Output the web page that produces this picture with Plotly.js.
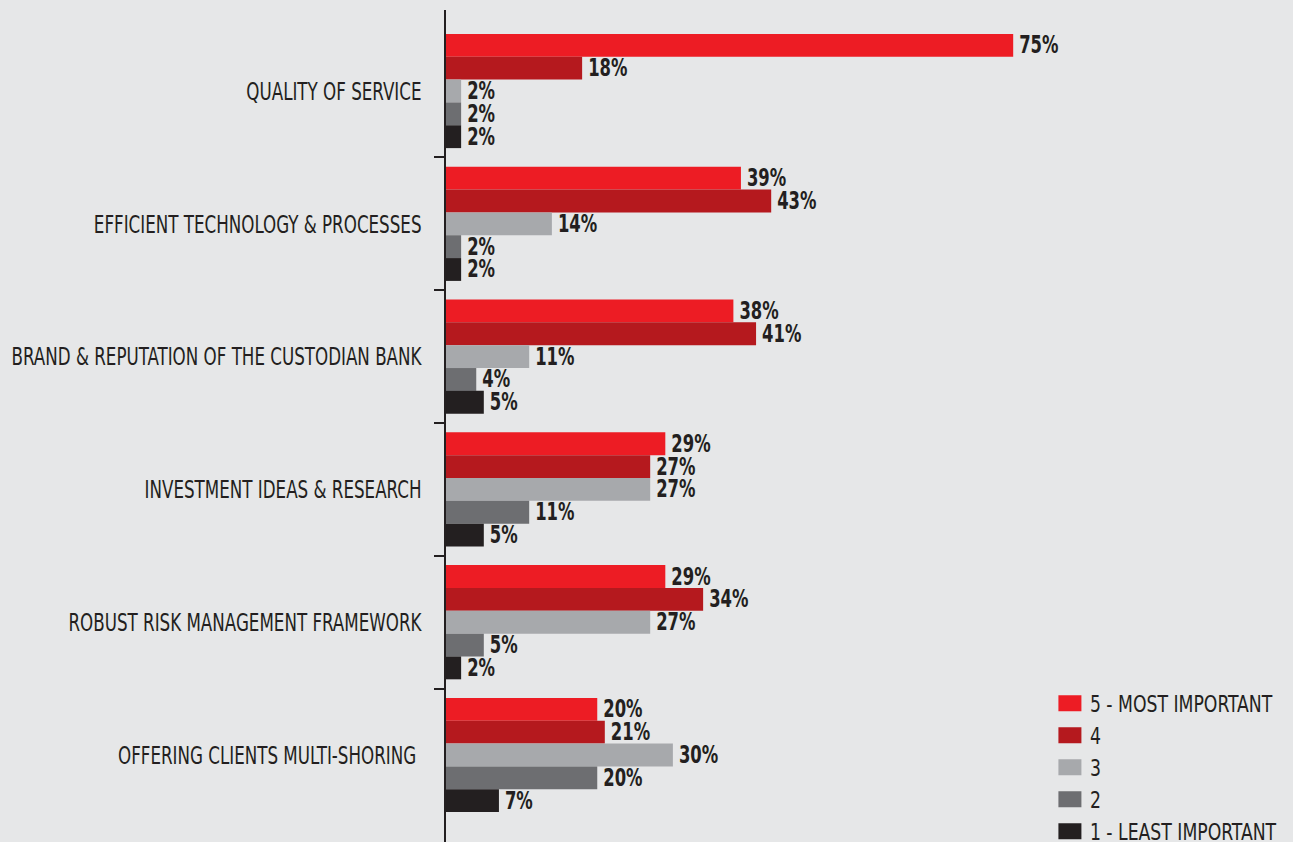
<!DOCTYPE html>
<html>
<head>
<meta charset="utf-8">
<script src="https://cdn.plot.ly/plotly-3.0.1.min.js"></script>
<style>html,body{margin:0;padding:0;background:#e6e7e8;}#chart{width:1293px;height:842px;}</style>
</head>
<body>
<div id="chart"></div>
<script>
const categories = [
  "QUALITY OF SERVICE",
  "EFFICIENT TECHNOLOGY & PROCESSES",
  "BRAND & REPUTATION OF THE CUSTODIAN BANK",
  "INVESTMENT IDEAS & RESEARCH",
  "ROBUST RISK MANAGEMENT FRAMEWORK",
  "OFFERING CLIENTS MULTI-SHORING "
];
const seriesNames = ["5 - MOST IMPORTANT", "4", "3", "2", "1 - LEAST IMPORTANT"];
const s5 = [75, 39, 38, 29, 29, 20];
const s4 = [18, 43, 41, 27, 34, 21];
const s3 = [2, 14, 11, 27, 27, 30];
const s2 = [2, 2, 4, 11, 5, 20];
const s1 = [2, 2, 5, 5, 2, 7];
const colors = ["#ed1c24", "#b5191e", "#a7a9ac", "#6d6e71", "#231f20"];

const FONT = "'DejaVu Sans Condensed', 'DejaVu Sans', sans-serif";
const positions = categories.map((c, i) => i);
const boundaries = categories.slice(1).map((c, i) => i + 0.5);

const allSeries = [s5, s4, s3, s2, s1];
const traces = allSeries.map((vals, k) => ({
  type: "bar",
  orientation: "h",
  name: seriesNames[k],
  x: vals,
  y: positions,
  marker: {color: colors[k]},
  text: vals.map(v => v + "%"),
  textposition: "outside",
  constraintext: "none",
  cliponaxis: false,
  textfont: {family: FONT, size: 24, color: "#231f20", weight: "bold"},
  hoverinfo: "x+name"
}));
traces.push({type: "scatter", x: [0], y: [0], yaxis: "y2", mode: "markers",
  marker: {opacity: 0}, showlegend: false, hoverinfo: "skip"});

const layout = {
  width: 1293, height: 842,
  paper_bgcolor: "#e6e7e8",
  plot_bgcolor: "#e6e7e8",
  margin: {l: 446, r: 0, t: 10, b: 0, autoexpand: false},
  barmode: "group",
  bargap: 0.14,
  bargroupgap: 0,
  font: {family: FONT, color: "#231f20"},
  xaxis: {range: [0, 112], showgrid: false, zeroline: false, showticklabels: false, showline: false, ticks: "", automargin: false},
  yaxis: {
    range: [5.655, -0.61],
    tickvals: positions,
    ticktext: categories,
    ticks: "",
    showgrid: false, zeroline: false,
    showline: true, linecolor: "#231f20", linewidth: 2.5,
    ticklabelstandoff: 17,
    automargin: false,
    tickfont: {family: FONT, size: 25, color: "#231f20"}
  },
  yaxis2: {
    overlaying: "y", side: "left",
    range: [5.655, -0.61],
    tickvals: boundaries,
    ticks: "outside", ticklen: 11, tickwidth: 2, tickcolor: "#231f20",
    showticklabels: false, showgrid: false, zeroline: false, showline: false,
    automargin: false
  },
  legend: {
    x: 0.713, xanchor: "left", y: -0.0124, yanchor: "bottom",
    bgcolor: "rgba(0,0,0,0)",
    font: {family: FONT, size: 22.3, color: "#231f20"},
    tracegroupgap: 0, itemwidth: 30
  },
  showlegend: true
};

function condense(sel, factor, shiftMode) {
  document.querySelectorAll(sel).forEach(t => {
    const w = t.getComputedTextLength();
    if (!w) return;
    t.setAttribute("textLength", (w * factor).toFixed(2));
    t.setAttribute("lengthAdjust", "spacingAndGlyphs");
    if (shiftMode === "middle") {
      t.setAttribute("dx", (-(w * (1 - factor)) / 2 + 3).toFixed(2));
    }
  });
}

Plotly.newPlot("chart", traces, layout, {displayModeBar: false, staticPlot: true}).then(() => {
  const ticks = Array.from(document.querySelectorAll(".yaxislayer-above .ytick text"));
  let maxW = 0;
  ticks.forEach(t => { maxW = Math.max(maxW, t.getComputedTextLength()); });
  condense(".yaxislayer-above .ytick text", 410 / maxW, "end");
  condense("text.bartext", 0.76, "middle");
  condense(".legendtext", 0.86, "start");
  document.querySelectorAll(".legendpoints path").forEach(p => {
    p.setAttribute("d", "M-11.5,-8H11.5V8H-11.5Z");
  });
});
</script>
</body>
</html>
